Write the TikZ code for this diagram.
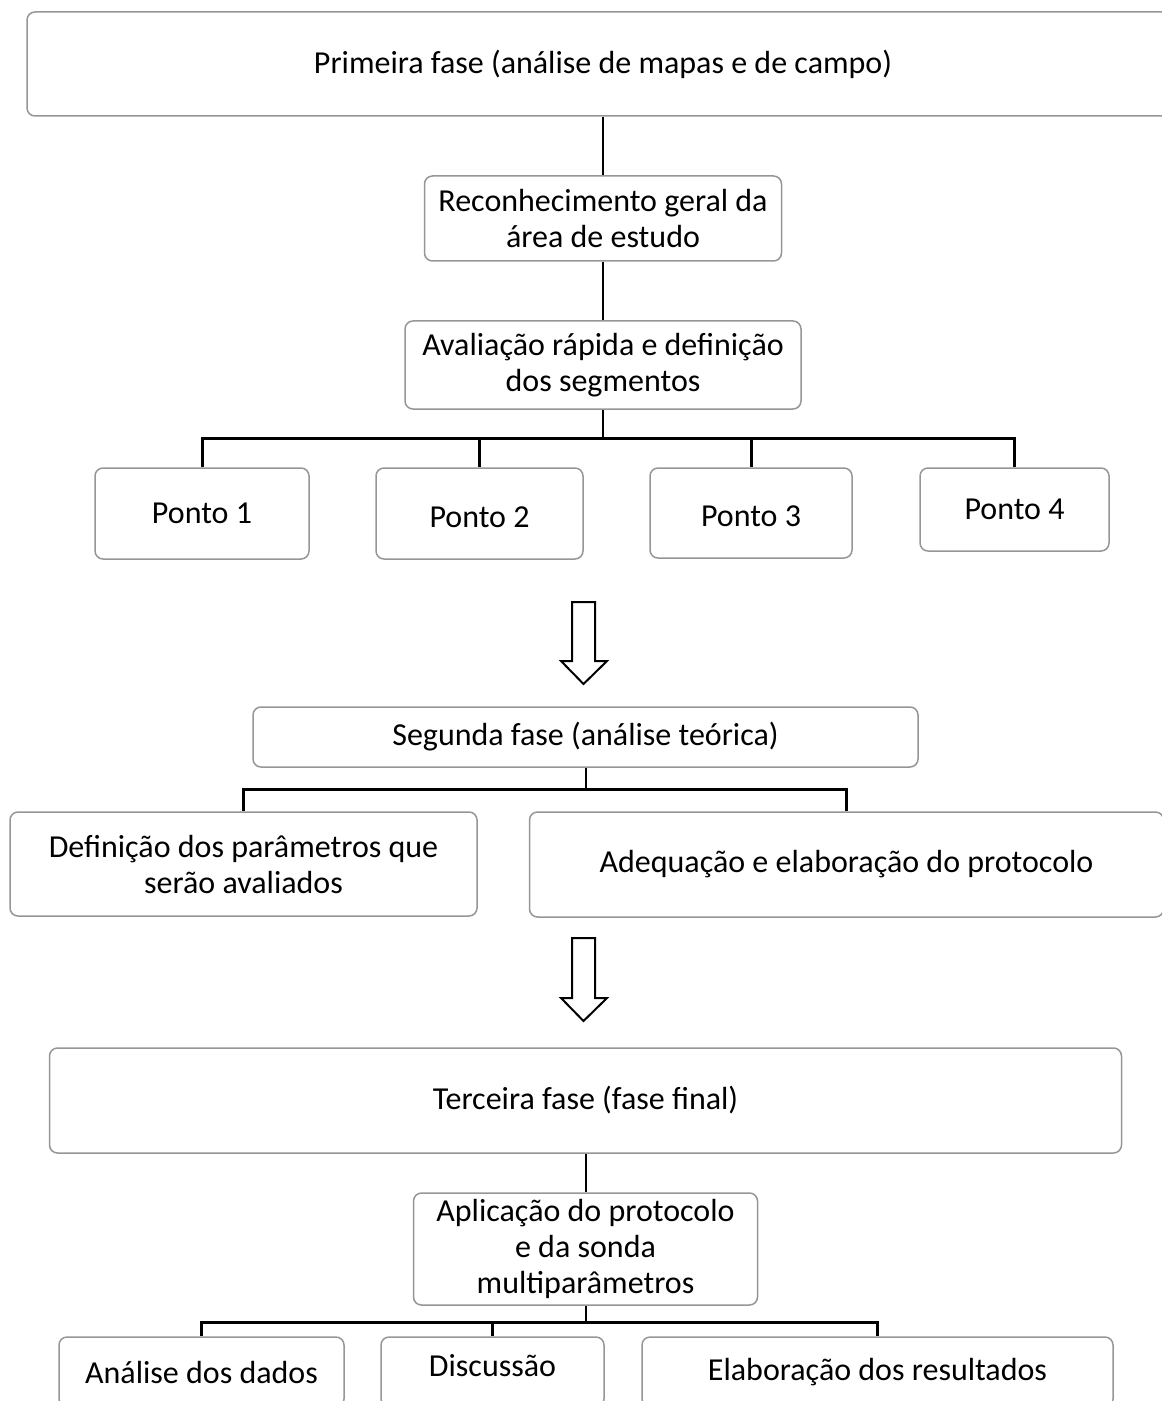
\documentclass[tikz,border=0pt]{standalone}
\usepackage{fontspec}
\setmainfont{Carlito}
\usepackage{tikz}
\usetikzlibrary{calc}
\definecolor{boxgray}{RGB}{150,150,150}
\tikzset{
  phase/.style={draw=boxgray, line width=0.75pt, rounded corners=4pt, fill=white,
    align=center, inner sep=2pt, font=\fontsize{16}{18}\selectfont},
  stem/.style={draw=black, line width=1pt},
  fork/.style={draw=black, line width=1.5pt},
  hollow/.style={draw=black, line width=1pt, fill=white, line join=miter}
}
\newcommand{\lowtext}[1]{\raisebox{0pt}[\dimexpr\height+3.5pt][\depth]{#1}}
\begin{document}
\begin{tikzpicture}[x=0.5pt, y=-0.5pt]
  \useasboundingbox (0,0) rectangle (1161,1401);
  % first phase
  \node[phase, minimum width=576pt, minimum height=52pt] (fase1) at (603,64)
    {Primeira fase (análise de mapas e de campo)};
  \node[phase, minimum width=178.5pt, minimum height=42.5pt] (recon) at (603,218.5)
    {Reconhecimento geral da\\área de estudo};
  \node[phase, minimum width=198pt, minimum height=44pt] (aval) at (603,365)
    {Avaliação rápida e definição\\dos segmentos};
  \node[phase, minimum width=107pt, minimum height=45.5pt] (ponto1) at (202,513.5) {Ponto 1};
  \node[phase, minimum width=103.5pt, minimum height=45.5pt] (ponto2) at (479.5,513.5)
    {\lowtext{Ponto 2}};
  \node[phase, minimum width=101pt, minimum height=45pt] (ponto3) at (751,513)
    {\lowtext{Ponto 3}};
  \node[phase, minimum width=94.5pt, minimum height=41.5pt] (ponto4) at (1014.5,509.5) {Ponto 4};
  \draw[stem] (fase1.south) -- (recon.north);
  \draw[stem] (recon.south) -- (aval.north);
  \coordinate (fork1) at (603,438);
  \draw[stem] (aval.south) -- (fork1);
  \draw[fork] (ponto1.north) |- (fork1) -| (ponto4.north);
  \foreach \p in {ponto2,ponto3}
    \draw[fork] (\p.north) -- (\p.north |- fork1);
  % arrows between phases
  \draw[hollow] (572,602) -- (595,602) -- (595,661) -- (607,661) -- (583.5,684)
    -- (561,661) -- (572,661) -- cycle;
  \draw[hollow] (572,938) -- (595,938) -- (595,998) -- (607,998) -- (583.5,1021)
    -- (561,998) -- (572,998) -- cycle;
  % second phase
  \node[phase, minimum width=332.5pt, minimum height=30pt] (fase2) at (585.5,737)
    {Segunda fase (análise teórica)};
  \node[phase, minimum width=233.5pt, minimum height=52pt] (param) at (243.5,864)
    {Definição dos parâmetros que\\serão avaliados};
  \node[phase, minimum width=317pt, minimum height=52.5pt] (protoc) at (846.5,864.5)
    {Adequação e elaboração do protocolo};
  \coordinate (fork2) at (585.5,789);
  \draw[stem] (fase2.south) -- (fork2);
  \draw[fork] (param.north) |- (fork2) -| (protoc.north);
  % third phase
  \node[phase, minimum width=536pt, minimum height=52.5pt] (fase3) at (585.5,1100.5)
    {Terceira fase (fase final)};
  \node[phase, minimum width=172pt, minimum height=56pt] (aplic) at (585.5,1249)
    {Aplicação do protocolo\\e da sonda\\multiparâmetros};
  \node[phase, minimum width=142.5pt, minimum height=35pt] (dados) at (201.5,1372)
    {Análise dos dados};
  \node[phase, minimum width=111.5pt, minimum height=35pt] (discus) at (492.5,1372)
    {\raisebox{7pt}{Discussão}};
  \node[phase, minimum width=235.5pt, minimum height=35pt] (result) at (877.5,1372)
    {Elaboração dos resultados};
  \draw[stem] (fase3.south) -- (aplic.north);
  \coordinate (fork3) at (585.5,1322);
  \draw[stem] (aplic.south) -- (fork3);
  \draw[fork] (dados.north) |- (fork3) -| (result.north);
  \draw[fork] (discus.north) -- (discus.north |- fork3);
\end{tikzpicture}
\end{document}
